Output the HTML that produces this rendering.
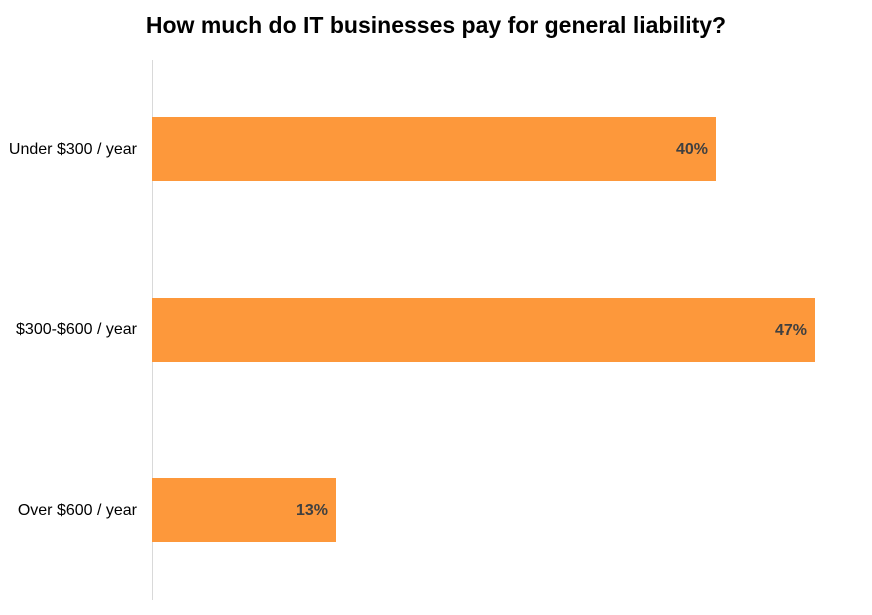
<!DOCTYPE html>
<html><head><meta charset="utf-8"><style>
body{margin:0;background:#fff;width:872px;height:615px;position:relative;overflow:hidden;font-family:"Liberation Sans",sans-serif}
.t{position:absolute;left:0;width:872px;top:12px;text-align:center;font-weight:bold;font-size:23px;color:#000}
.ax{position:absolute;left:152px;top:60px;width:1px;height:540px;background:#d9d9d9}
.b{position:absolute;left:152px;height:64px;background:#fd983b}
.v{position:absolute;right:8px;top:0;line-height:66px;font-weight:bold;font-size:16px;color:#404040}
.l{position:absolute;right:735px;font-size:16px;color:#000;line-height:20px;white-space:nowrap}
</style></head><body>
<div class="t">How much do IT businesses pay for general liability?</div>
<div class="ax"></div>
<div class="b" style="top:117px;width:564px"><span class="v">40%</span></div>
<div class="b" style="top:298px;width:663px"><span class="v">47%</span></div>
<div class="b" style="top:478px;width:184px"><span class="v">13%</span></div>
<div class="l" style="top:140px">Under $300 / year</div>
<div class="l" style="top:320px">$300-$600 / year</div>
<div class="l" style="top:501px">Over $600 / year</div>
</body></html>
